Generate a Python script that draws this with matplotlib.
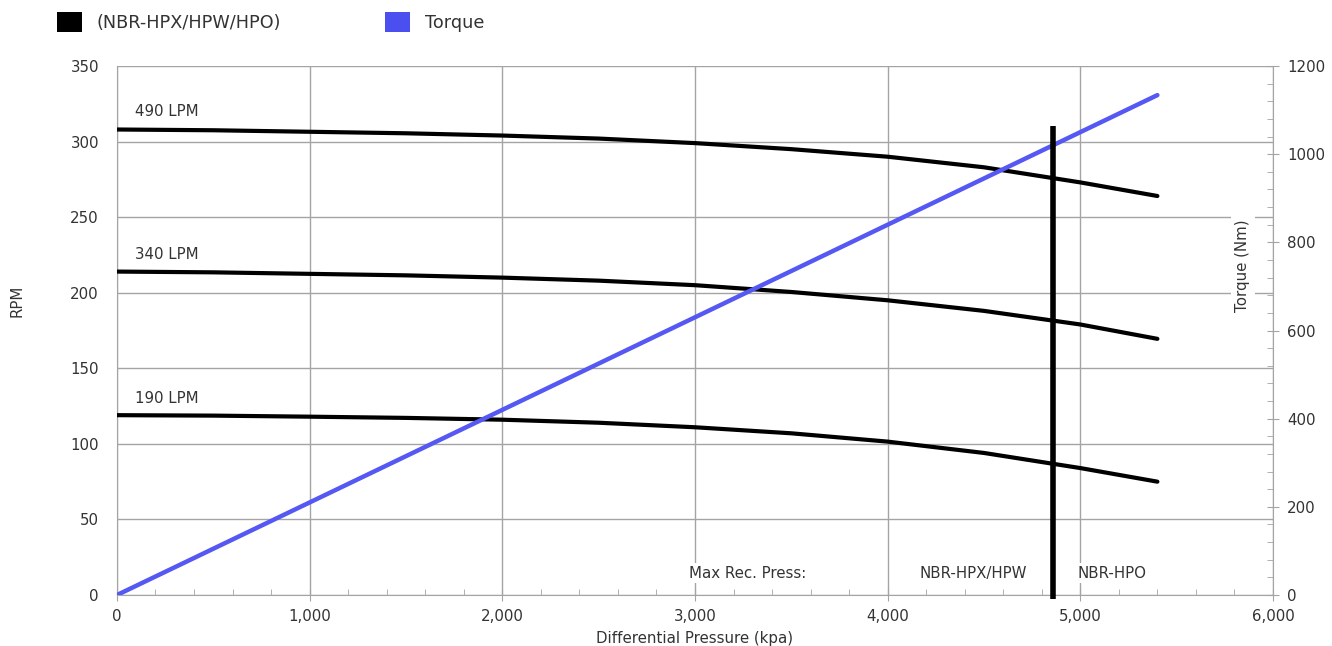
import numpy as np
import matplotlib
matplotlib.use("Agg")
import matplotlib.pyplot as plt
from matplotlib.ticker import MultipleLocator, FuncFormatter
from matplotlib.patches import Rectangle

# pressure points (kPa) where the motor curves were read
pressure = [0, 500, 1000, 1500, 2000, 2500, 3000, 3500, 4000, 4500, 5000, 5400]

# RPM for each flow rate
rpm_490 = [308, 307.5, 306.5, 305.5, 304, 302, 299, 295, 290, 283, 273, 264]
rpm_340 = [214, 213.5, 212.5, 211.5, 210, 208, 205, 200.5, 195, 188, 179, 169.5]
rpm_190 = [119, 118.7, 118, 117.2, 116, 114, 111, 107, 101.5, 94, 84, 75]
flow_labels = ["490 LPM", "340 LPM", "190 LPM"]
label_rpm = [320, 225, 130]

# torque is linear with differential pressure
torque_press = [0, 5400]
torque_nm = [0, 1134]

# max recommended pressure marker
max_press = 4860
max_press_top = 310

black = "#000000"
blue = "#5558f2"
grid_c = "#a4a4a4"
txt_c = "#333333"
fs = 10.8

fig = plt.figure(figsize=(13.32, 6.46), dpi=100)
ax = fig.add_axes([0.0878, 0.0789, 0.8679, 0.8189])
ax2 = ax.twinx()

ax.set_xlim(0, 6000)
ax.set_ylim(0, 350)
ax2.set_ylim(0, 1200)

for rpm in (rpm_490, rpm_340, rpm_190):
    ax.plot(pressure, rpm, color=black, lw=3.0, solid_capstyle="round", zorder=3)

for lab, y in zip(flow_labels, label_rpm):
    ax.text(95, y, lab, fontsize=fs, color=txt_c, va="center", ha="left")

# torque line sits above the RPM curves
ax2.plot(torque_press, torque_nm, color=blue, lw=3.2, solid_capstyle="round", zorder=3)

# the marker line goes on the top axes so it covers the torque line
ax2.plot([max_press, max_press], [-8, max_press_top * 1200 / 350], color=black, lw=4.0,
         solid_capstyle="butt", zorder=4, clip_on=False)

box = dict(facecolor="white", edgecolor="none", pad=2)
ax.text(3576, 14.5, "Max Rec. Press:", fontsize=fs, color=txt_c, ha="right", va="center", bbox=box)
ax.text(4443, 14.5, "NBR-HPX/HPW", fontsize=fs, color=txt_c, ha="center", va="center", bbox=box)
ax.text(4985, 14.5, "NBR-HPO", fontsize=fs, color=txt_c, ha="left", va="center", bbox=box)

# grid
ax.xaxis.set_major_locator(MultipleLocator(1000))
ax.xaxis.set_minor_locator(MultipleLocator(200))
ax.yaxis.set_major_locator(MultipleLocator(50))
ax.grid(True, which="major", color=grid_c, lw=1.0)
ax.set_axisbelow(True)

ax.xaxis.set_major_formatter(FuncFormatter(lambda v, p: f"{int(v):,}"))
ax.tick_params(axis="x", which="major", direction="inout", length=8, color=grid_c,
               labelsize=fs, labelcolor=txt_c, pad=6)
ax.tick_params(axis="x", which="minor", direction="in", length=4, color=grid_c)
ax.tick_params(axis="y", which="major", length=0, labelsize=fs, labelcolor=txt_c, pad=13)

ax2.yaxis.set_major_locator(MultipleLocator(200))
ax2.yaxis.set_minor_locator(MultipleLocator(40))
ax2.tick_params(axis="y", which="major", direction="inout", length=8, color=grid_c,
                labelsize=fs, labelcolor=txt_c, pad=6)
ax2.tick_params(axis="y", which="minor", direction="in", length=4, color=grid_c)

for a in (ax, ax2):
    for s in ("left", "right", "bottom"):
        a.spines[s].set_color(grid_c)
    a.spines["top"].set_visible(False)
ax.spines["right"].set_visible(False)
ax2.spines["left"].set_visible(False)
ax2.spines["bottom"].set_visible(False)

ax.set_xlabel("Differential Pressure (kpa)", fontsize=fs, color=txt_c, labelpad=5)
fig.text(0.0128, 0.535, "RPM", rotation=90, fontsize=fs, color=txt_c, ha="center", va="center")
ax.text(5844, 218, "Torque (Nm)", rotation=90, fontsize=fs, color=txt_c, ha="center", va="center",
        bbox=dict(facecolor="white", edgecolor="none", pad=3))

# legend along the top
fig.patches.append(Rectangle((57 / 1332, 1 - 32 / 646), 25 / 1332, 20 / 646, transform=fig.transFigure,
                             facecolor=black, edgecolor="none"))
fig.text(97 / 1332, 1 - 23 / 646, "(NBR-HPX/HPW/HPO)", fontsize=12.7, color=txt_c, va="center")
fig.patches.append(Rectangle((385 / 1332, 1 - 32 / 646), 25 / 1332, 20 / 646, transform=fig.transFigure,
                             facecolor="#4b4ff0", edgecolor="none"))
fig.text(425 / 1332, 1 - 23 / 646, "Torque", fontsize=12.7, color=txt_c, va="center")

fig.savefig("out.png", dpi=100)
